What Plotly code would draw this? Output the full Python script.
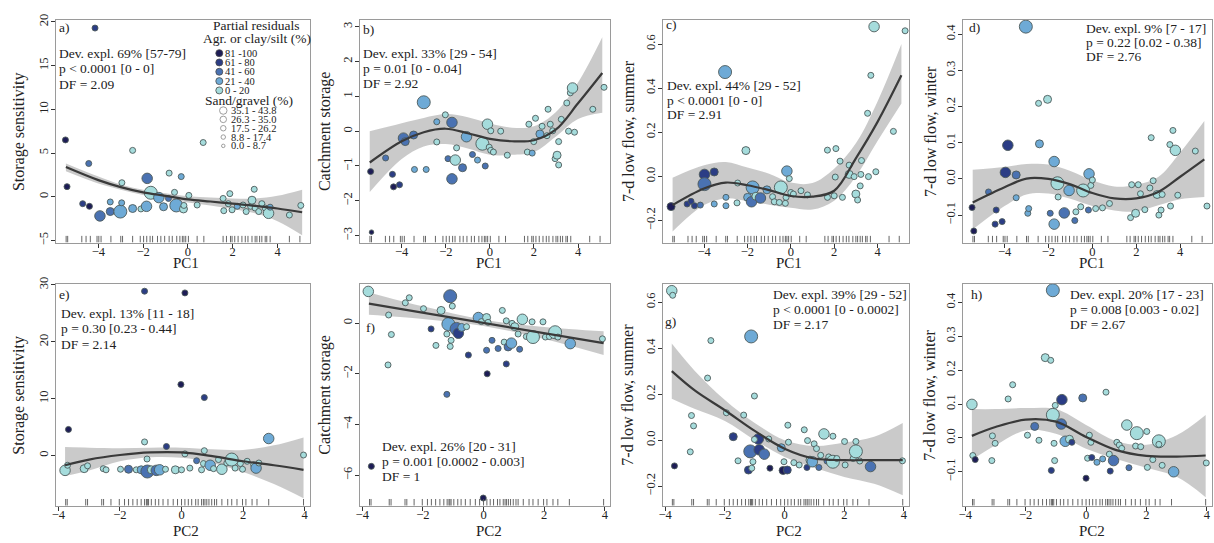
import plotly.graph_objects as go

W, H = 1214, 543
SERIF = "Liberation Serif, Times New Roman, serif"

# ---- legend classes -------------------------------------------------------
AGR_LABELS = ["81 -100", "61 - 80", "41 - 60", "21 - 40", "0 - 20"]
AGR_COLORS = ["#1d1c56", "#2b3d85", "#4a72b2", "#6eaad6", "#a5dcdc"]  # class 1 (81-100) .. 5 (0-20)
SAND_LABELS = ["35.1 - 43.8", "26.3 - 35.0", "17.5 - 26.2", "8.8 - 17.4", "0.0 - 8.7"]
SAND_PX = {1: 4.5, 2: 6, 3: 8, 4: 10.5, 5: 13}  # class 1 (0.0-8.7) .. 5 (35.1-43.8)

# ---- rug values -----------------------------------------------------------
PC1_RUG = [-5.44, -5.37, -4.74, -4.55, -4.36, -4.06, -3.98, -3.88, -3.44, -3.0, -2.92,
           -2.47, -2.13, -1.98, -1.84, -1.69, -1.58, -1.36, -1.21, -1.04, -0.84, -0.7,
           -0.5, -0.36, -0.25, -0.18, -0.1, 0.02, 0.41, 0.71, 1.57, 1.72, 1.9, 1.97,
           2.09, 2.24, 2.41, 2.56, 2.68, 2.86, 3.0, 3.08, 3.2, 3.3, 3.45, 3.52, 3.67,
           4.53, 5.0]
PC2_RUG = [-3.76, -3.71, -3.11, -3.05, -2.59, -2.53, -2.29, -2.02, -1.85, -1.72, -1.58,
           -1.44, -1.31, -1.2, -1.14, -1.11, -1.07, -0.98, -0.85, -0.74, -0.6, -0.44,
           -0.27, -0.13, 0.0, 0.11, 0.22, 0.33, 0.46, 0.54, 0.65, 0.71, 0.76, 0.82,
           0.89, 0.98, 1.07, 1.14, 1.31, 1.5, 1.63, 1.8, 1.98, 2.09, 2.29, 2.45, 2.83,
           3.96]

KNOTS_PC1 = [-5.45, -4, -3, -2, -1, 0, 1, 2, 3, 4, 5.1]
KNOTS_PC2 = [-3.78, -3, -2, -1, 0, 1, 2, 3, 3.96]
KNOTS_LIN = [-3.78, -2, 0, 2, 3.96]

# ---- a) storage sensitivity ~ PC1 ----------------------------------------
a_x = [-4.15, -5.47, -5.40, -4.43, -4.70, -4.40, -3.93, -3.47, -3.47, -3.02, -2.96, -2.95,
       -2.47, -2.47, -2.10, -1.82, -1.85, -1.66, -1.30, -1.09, -0.87, -0.84, -0.60, -0.52,
       -0.30, -0.20, -0.18, 0.04, 0.41, 0.68, 1.57, 1.60, 1.87, 1.80, 1.97, 2.20, 2.46,
       2.60, 2.80, 2.86, 2.96, 3.00, 3.16, 3.30, 3.45, 3.60, 3.67, 4.53, 5.04]
a_y = [19.3, 6.5, 1.15, 3.8, -0.8, -1.1, -2.2, -1.7, -0.6, -1.7, -0.7, 1.6,
       5.3, -1.35, -1.4, 2.1, -1.1, 0.45, -0.1, -1.15, -0.2, 2.7, 0.5, -1.0,
       2.3, -1.4, -1.0, 0.15, -0.95, 6.2, -0.2, -1.6, 0.35, -0.8, -1.5, -1.1, -0.95,
       -1.7, -1.1, -0.4, 0.85, -1.3, -1.7, -0.8, -1.3, -1.9, -1.2, -2.1, -1.0]
a_agr = [2, 1, 1, 3, 2, 1, 3, 3, 4, 4, 4, 5, 5, 4, 5, 3, 4, 5, 4, 4, 3, 5, 5, 4,
         4, 5, 5, 5, 5, 5, 5, 5, 5, 5, 5, 4, 5, 5, 5, 5, 5, 5, 5, 5, 5, 5, 4, 5, 5]
a_sand = [2, 2, 2, 2, 2, 2, 4, 3, 2, 5, 2, 2, 2, 3, 2, 4, 4, 5, 4, 3, 2, 2, 2, 5,
          2, 3, 2, 2, 2, 2, 2, 2, 2, 2, 2, 2, 2, 2, 2, 3, 2, 2, 2, 2, 2, 4, 2, 2, 2]
a_fit = [3.4, 1.9, 1.1, 0.5, 0.1, -0.3, -0.55, -0.8, -1.05, -1.35, -1.78]
a_lo = [2.9, 1.5, 0.8, 0.2, -0.2, -0.65, -1.0, -1.4, -1.9, -2.8, -4.4]
a_hi = [3.8, 2.3, 1.4, 0.8, 0.4, 0.05, -0.1, -0.2, -0.2, 0.1, 0.8]

# ---- b) catchment storage ~ PC1 ------------------------------------------
b_x = [-5.41, -5.37, -4.73, -4.42, -4.37, -4.10, -3.92, -3.84, -3.46, -3.42, -2.89, -3.00,
       -2.41, -2.41, -2.02, -1.90, -1.72, -1.72, -1.57, -1.51, -1.24, -1.06, -0.79, -0.56,
       -0.21, -0.34, -0.11, -0.03, 0.04, 0.16, 0.04, 0.49, 0.79, 1.70, 1.77, 1.92, 1.99,
       2.07, 2.27, 2.37, 2.59, 2.64, 2.74, 2.85, 2.96, 3.05, 3.12, 3.12, 3.24, 3.49, 3.65,
       3.75, 3.57, 3.84, 4.67, 5.18]
b_y = [-1.16, -2.9, -0.77, -1.24, -1.6, -1.54, -0.2, -0.3, -0.11, -1.1, -1.1, 0.83,
       0.27, -0.31, 0.47, -0.79, 0.25, -1.37, -0.83, -0.48, -1.05, -0.16, -0.67, -0.83,
       -1.0, -0.36, 0.2, -0.46, -0.55, -0.6, 0.01, 0.0, -0.69, -0.6, 0.2, -0.63, -0.3,
       0.37, -0.08, 0.14, -0.13, 0.63, 0.2, 0.01, -0.79, -0.69, -0.3, -0.97, 0.34, 0.81, 1.1,
       1.24, 0.0, -0.03, 0.63, 1.26]
b_agr = [1, 1, 3, 2, 1, 2, 3, 3, 3, 4, 4, 4, 4, 5, 5, 3, 3, 3, 5, 5, 3, 4, 3, 4,
         3, 5, 5, 5, 5, 5, 5, 5, 5, 5, 5, 4, 5, 5, 4, 5, 5, 5, 5, 5, 5, 5, 5, 5, 5, 5, 5,
         5, 5, 5, 5, 5]
b_sand = [2, 1, 2, 2, 2, 2, 4, 3, 3, 2, 2, 5, 2, 2, 2, 2, 4, 4, 4, 2, 3, 4, 2, 2,
          2, 5, 4, 2, 2, 2, 2, 2, 2, 2, 2, 2, 2, 2, 3, 2, 2, 2, 2, 2, 2, 3, 2, 2, 2, 2, 2,
          4, 2, 2, 2, 2]
b_fit = [-0.9, -0.29, -0.03, 0.07, -0.06, -0.22, -0.29, -0.26, 0.05, 0.8, 1.67]
b_lo = [-1.75, -0.8, -0.44, -0.37, -0.5, -0.68, -0.68, -0.6, -0.15, 0.35, 0.53]
b_hi = [0.0, 0.23, 0.38, 0.49, 0.4, 0.22, 0.1, 0.14, 0.55, 1.4, 2.7]

# ---- c) 7-d low flow, summer ~ PC1 ---------------------------------------
c_x = [-5.52, -4.78, -4.60, -4.44, -4.17, -3.98, -3.98, -3.53, -3.53, -2.99, -2.99, -3.03,
       -2.48, -2.45, -2.07, -1.99, -1.81, -1.76, -1.61, -1.40, -1.10, -0.84, -0.76, -0.53,
       -0.46, -0.25, -0.18, -0.07, 0.0, -0.22, 0.12, 0.47, 0.77, 1.69, 2.08, 1.69, 2.0,
       2.05, 2.27, 2.38, 2.69, 2.69, 2.92, 3.0, 3.08, 3.2, 3.23, 3.26, 3.54, 3.69, 3.58,
       3.84, 3.92, 4.73, 5.27]
c_y = [-0.137, -0.125, -0.113, -0.133, -0.13, 0.009, -0.035, 0.02, -0.125, -0.095, -0.133, 0.473,
       -0.12, -0.03, 0.117, -0.095, -0.115, -0.05, -0.09, -0.098, -0.061, -0.092, -0.115, -0.118,
       -0.05, -0.122, 0.024, -0.01, -0.073, -0.095, -0.08, -0.065, -0.084, 0.119, 0.126, -0.095, -0.088,
       -0.003, 0.069, -0.095, 0.051, 0.009, -0.001, -0.08, -0.107, -0.043, 0.009, 0.072, 0.286, 0.458, -0.001,
       0.679, 0.021, 0.204, 0.66]
c_agr = [1, 2, 2, 2, 3, 2, 3, 2, 4, 4, 4, 4, 5, 5, 5, 4, 3, 4, 5, 3, 4, 5, 5, 5,
         5, 5, 4, 5, 5, 5, 5, 5, 5, 5, 5, 5, 5, 5, 5, 5, 5, 5, 5, 5, 5, 5, 5, 5, 5, 5, 5,
         5, 5, 5, 5]
c_sand = [3, 2, 2, 2, 2, 4, 5, 3, 2, 2, 2, 5, 2, 2, 3, 3, 4, 5, 3, 4, 3, 2, 2, 2,
          5, 2, 4, 2, 2, 2, 2, 2, 2, 2, 2, 2, 2, 2, 2, 2, 2, 3, 2, 3, 2, 2, 2, 2, 2, 2, 2,
          4, 2, 2, 2]
c_fit = [-0.13, -0.055, -0.028, -0.04, -0.062, -0.089, -0.092, -0.065, 0.082, 0.247, 0.458]
c_lo = [-0.25, -0.13, -0.10, -0.113, -0.128, -0.142, -0.15, -0.11, 0.0, 0.16, 0.33]
c_hi = [-0.006, 0.05, 0.065, 0.04, 0.012, -0.028, -0.03, 0.035, 0.15, 0.34, 0.6]

# ---- d) 7-d low flow, winter ~ PC1 ---------------------------------------
d_x = [-5.48, -5.40, -4.73, -4.43, -4.38, -4.11, -3.96, -3.85, -3.47, -3.47, -3.03, -2.94,
       -2.90, -2.45, -2.41, -2.04, -1.92, -1.74, -1.74, -1.59, -1.56, -1.28, -1.06, -0.80,
       -0.75, -0.53, -0.42, -0.18, -0.15, -0.07, 0.0, 0.15, 0.46, 0.78, 1.74, 1.79, 1.97,
       2.09, 2.19, 2.39, 2.62, 2.68, 2.77, 2.95, 3.03, 3.13, 3.18, 3.53, 3.56, 3.67, 3.78,
       3.89, 4.69, 5.22]
d_y = [-0.079, -0.144, -0.036, -0.125, -0.086, -0.118, 0.018, 0.093, 0.011, -0.052, 0.421, -0.095,
       -0.082, 0.209, 0.097, 0.22, -0.095, 0.048, -0.125, -0.012, -0.05, -0.094, -0.032, -0.115,
       -0.091, -0.077, -0.032, -0.086, 0.014, -0.018, -0.003, -0.082, -0.08, -0.068, -0.107, -0.016, -0.095,
       -0.016, -0.041, -0.085, -0.025, 0.114, -0.005, -0.043, -0.1, -0.086, -0.043, 0.095, -0.075, 0.134, 0.079,
       -0.045, 0.077, -0.075]
d_agr = [1, 1, 3, 2, 2, 2, 2, 2, 3, 4, 4, 4, 4, 5, 4, 5, 3, 4, 4, 5, 5, 3, 4, 3,
         5, 5, 5, 3, 4, 5, 5, 5, 5, 5, 5, 5, 5, 5, 5, 5, 5, 5, 5, 5, 5, 5, 5, 5, 5, 5, 5,
         5, 5, 5]
d_sand = [2, 2, 2, 2, 2, 2, 4, 4, 3, 2, 5, 2, 2, 2, 3, 3, 2, 4, 4, 5, 2, 4, 4, 2,
          2, 2, 5, 2, 4, 2, 2, 2, 2, 2, 2, 2, 3, 2, 2, 2, 2, 2, 2, 3, 2, 2, 2, 2, 2, 2, 4,
          2, 2, 2]
d_fit = [-0.065, -0.023, 0.001, 0.0, -0.015, -0.039, -0.054, -0.054, -0.036, 0.006, 0.054]
d_lo = [-0.14, -0.075, -0.043, -0.04, -0.055, -0.075, -0.087, -0.09, -0.073, -0.056, -0.05]
d_hi = [0.025, 0.033, 0.041, 0.04, 0.022, -0.004, -0.021, -0.016, 0.005, 0.073, 0.16]

# ---- e) storage sensitivity ~ PC2 ----------------------------------------
e_x = [-1.2, 0.11, -0.02, 0.74, -3.67, -1.2, -0.49, 0.74, 2.83, 3.96, -3.78, -3.7,
       -3.16, -3.05, -2.54, -2.45, -1.98, -1.72, -1.47, -1.31, -1.11, -1.12, -0.98, -0.82,
       -0.71, -0.52, -0.2, 0.0, 0.11, 0.27, 0.49, 0.65, 0.71, 0.93, 1.04, 1.2, 1.31, 1.47,
       1.63, 1.74, 1.91, 1.98, 2.13, 2.34, 2.42, 2.51]
e_y = [28.9, 28.6, 12.5, 10.2, 4.6, 2.4, 1.6, 0.86, 3.0, 0.1, -2.6, -1.7,
       -2.3, -1.8, -2.3, -2.5, -2.4, -2.4, -2.5, -2.5, -2.8, -0.6, -2.5, -2.6,
       -2.5, -2.4, -2.5, -2.5, 0.3, -2.2, -0.9, -2.5, -1.4, -1.7, -2.3, -0.7, -2.4, -1.3,
       -0.7, -2.2, -1.4, -2.4, -1.0, -1.6, -2.2, -1.3]
e_agr = [2, 1, 1, 2, 1, 5, 2, 5, 4, 5, 5, 5, 5, 5, 5, 5, 5, 3, 5, 4, 3, 5, 5, 3,
         4, 5, 5, 5, 5, 5, 3, 5, 5, 4, 5, 5, 5, 5, 5, 5, 5, 5, 5, 5, 4, 5]
e_sand = [2, 2, 2, 2, 2, 2, 2, 2, 4, 2, 4, 2, 3, 2, 2, 2, 2, 3, 2, 3, 5, 2, 3, 4,
          4, 2, 3, 2, 2, 2, 2, 2, 2, 4, 2, 2, 4, 2, 5, 2, 2, 2, 2, 2, 4, 2]
e_fit = [-1.7, -0.7, 0.1, 0.55, 0.55, -0.1, -1.0, -1.7, -2.5]
e_lo = [-3.6, -2.6, -1.0, -0.3, -0.4, -1.3, -2.9, -5.0, -7.5]
e_hi = [1.5, 1.4, 1.3, 1.4, 1.4, 1.1, 1.0, 1.8, 3.2]

# ---- f) catchment storage ~ PC2 ------------------------------------------
f_x = [-3.8, -3.13, -3.04, -3.15, -2.58, -2.45, -1.98, -1.73, -1.57, -1.4, -1.21, -1.16,
       -1.1, -1.07, -1.1, -1.03, -1.21, -0.89, -0.83, -0.72, -0.56, -0.5, -0.17, -0.07,
       0.1, 0.1, 0.12, -0.01, 0.15, 0.28, 0.48, 0.62, 0.68, 0.75, 0.75, 0.81, 0.92, 0.94,
       1.03, 1.14, 1.19, 1.28, 1.41, 1.6, 1.63, 1.96, 2.04, 2.17, 2.36, 2.45, 2.86, 3.92,
       -3.7]
f_y = [1.25, 0.32, -0.45, -1.65, 0.8, 1.0, 0.57, -0.23, -0.88, 0.5, -0.43, -0.04,
       1.06, -0.68, -0.92, 0.67, -2.81, -0.23, -0.4, -0.17, -0.14, -1.26, 0.22, 0.06,
       0.22, -1.07, -2.0, -6.9, 0.03, -0.68, -1.0, 0.5, -0.75, 0.09, -1.61, -0.94, -0.79, -0.01,
       -0.14, -0.43, -1.03, 0.15, -0.53, 0.05, -0.55, 0.05, -0.55, -0.53, -0.36, -0.55, -0.81, -0.62,
       -5.65]
f_agr = [5, 5, 5, 5, 5, 5, 5, 2, 5, 5, 5, 4, 3, 5, 5, 5, 3, 3, 2, 4, 5, 2, 4, 5,
         5, 3, 1, 1, 5, 3, 3, 5, 5, 5, 2, 3, 4, 5, 5, 5, 3, 5, 5, 5, 5, 5, 5, 5, 5, 5, 4, 5,
         1]
f_sand = [4, 2, 2, 2, 2, 2, 2, 2, 2, 3, 2, 5, 5, 2, 2, 2, 2, 5, 4, 3, 2, 2, 4, 2,
          3, 2, 2, 2, 2, 2, 2, 2, 2, 2, 2, 3, 4, 2, 3, 2, 2, 4, 2, 2, 5, 2, 2, 2, 5, 2, 4, 2,
          2]
f_fit = [0.77, 0.41, 0.01, -0.39, -0.79]
f_lo = [0.33, 0.16, -0.11, -0.63, -1.26]
f_hi = [1.21, 0.66, 0.13, -0.15, -0.32]

# ---- g) 7-d low flow, summer ~ PC2 ---------------------------------------
g_x = [-3.78, -3.75, -3.69, -3.12, -3.05, -3.16, -2.47, -2.58, -1.95, -1.72, -1.56, -1.37,
       -1.12, -1.01, -1.15, -1.21, -1.06, -1.1, -0.88, -0.85, -0.68, -1.01, -0.49, -0.53,
       -0.11, -0.02, -0.05, 0.09, 0.13, 0.11, 0.31, 0.49, 0.66, 0.75, 0.77, 0.85, 0.93, 0.99,
       1.07, 1.15, 1.21, 1.32, 1.42, 1.48, 1.62, 1.62, 1.75, 2.03, 2.01, 2.3, 2.39, 2.39,
       2.52, 2.88, 3.95]
g_y = [0.65, 0.63, -0.112, 0.107, 0.062, -0.051, 0.433, 0.27, 0.119, 0.015, -0.09, 0.109,
       0.451, 0.192, -0.049, -0.13, -0.094, -0.122, 0.005, -0.042, -0.061, 0.003, -0.122, 0.005,
       -0.033, -0.094, -0.132, -0.13, -0.009, 0.065, -0.098, -0.108, 0.045, -0.119, -0.002, -0.087, -0.094, -0.016,
       -0.037, -0.119, -0.066, 0.027, -0.091, -0.073, -0.094, 0.017, -0.08, -0.108, -0.006, -0.08, -0.049, -0.006,
       -0.091, -0.115, -0.09]
g_agr = [5, 5, 1, 5, 5, 5, 5, 5, 5, 2, 5, 5, 4, 5, 3, 2, 5, 5, 2, 2, 3, 5, 1, 5,
         4, 5, 1, 2, 5, 5, 5, 5, 5, 2, 5, 5, 4, 5, 5, 3, 5, 5, 3, 5, 5, 5, 5, 5, 5, 5, 5, 5,
         5, 3, 5]
g_sand = [4, 2, 2, 2, 2, 2, 2, 2, 2, 3, 2, 2, 5, 2, 5, 3, 2, 2, 4, 4, 4, 2, 2, 2,
          3, 2, 3, 3, 2, 2, 2, 2, 2, 2, 2, 3, 4, 2, 2, 2, 2, 4, 2, 2, 5, 2, 2, 2, 2, 2, 5, 2,
          2, 4, 2]
g_fit = [0.30, 0.215, 0.13, 0.04, -0.037, -0.08, -0.087, -0.087, -0.087]
g_lo = [0.18, 0.135, 0.083, 0.0, -0.073, -0.12, -0.16, -0.19, -0.24]
g_hi = [0.42, 0.30, 0.175, 0.075, 0.0, -0.025, -0.01, 0.015, 0.075]

# ---- h) 7-d low flow, winter ~ PC2 ---------------------------------------
h_x = [-1.1, -3.78, -3.75, -3.67, -3.1, -3.01, -3.12, -2.58, -2.43, -1.94, -1.7, -1.56,
       -1.35, -1.17, -1.15, -1.1, -1.06, -1.04, -1.02, -0.8, -0.82, -0.69, -0.55, -0.47,
       -0.11, 0.0, 0.11, 0.16, 0.05, 0.19, 0.36, 0.55, 0.66, 0.77, 0.8, 0.91, 1.02, 1.1,
       1.18, 1.35, 1.42, 1.64, 1.68, 1.81, 2.01, 2.03, 2.21, 2.41, 2.52, 2.41, 2.9, 3.98]
h_y = [0.436, 0.099, -0.052, -0.064, 0.006, -0.016, -0.067, 0.115, 0.157, 0.008, 0.034, -0.007,
       0.237, 0.229, -0.096, 0.068, -0.016, -0.067, 0.096, 0.113, 0.041, -0.01, -0.004, -0.013,
       0.118, -0.119, 0.008, -0.013, -0.06, -0.058, -0.072, -0.062, 0.135, -0.048, -0.098, -0.067, -0.013, -0.021,
       -0.031, 0.038, -0.088, -0.024, 0.014, -0.026, 0.019, -0.087, -0.064, -0.01, -0.081, -0.019, -0.1, -0.074]
h_agr = [4, 5, 5, 1, 5, 5, 5, 5, 5, 5, 3, 5, 5, 5, 2, 5, 5, 5, 5, 2, 3, 4, 5, 2,
         3, 1, 5, 5, 5, 2, 4, 4, 5, 5, 2, 3, 5, 5, 5, 5, 3, 5, 5, 5, 5, 5, 5, 5, 5, 5, 4, 5]
h_sand = [5, 4, 2, 2, 2, 2, 2, 2, 2, 2, 3, 2, 3, 2, 2, 5, 2, 2, 2, 4, 4, 4, 3, 2,
          3, 2, 2, 2, 2, 2, 2, 2, 2, 2, 2, 4, 2, 2, 2, 4, 2, 2, 5, 2, 2, 2, 2, 5, 2, 2, 4, 2]
h_fit = [0.006, 0.032, 0.054, 0.048, 0.003, -0.036, -0.053, -0.055, -0.052]
h_lo = [-0.065, -0.022, 0.022, 0.012, -0.032, -0.062, -0.088, -0.115, -0.175]
h_hi = [0.085, 0.085, 0.088, 0.085, 0.038, -0.01, -0.02, 0.008, 0.068]

# ---- panel layout (pixel boxes) -------------------------------------------
COL_PX = [(52, 307), (357, 608), (661, 908), (962, 1212)]
ROW_PX = [(13, 240), (282, 508)]
YTITLE_X = [15, 322, 626, 929]
XTITLE_X = [183, 487, 788, 1092]
XTITLE_Y = [261, 534]

PANELS = [
    dict(tag="a)", x=a_x, y=a_y, agr=a_agr, sand=a_sand, k=KNOTS_PC1, fit=a_fit, lo=a_lo, hi=a_hi,
         rug=PC1_RUG, yr=[-5.25, 20.25], yt=[-5, 0, 5, 10, 15, 20], fmt="d",
         ytitle="Storage sensitivity", xtitle="PC1",
         stats=["Dev. expl. 69% [57-79]", "p < 0.0001 [0 - 0]", "DF = 2.09"],
         tagpos=(57, 21), statpos=(57, 47), step=16),
    dict(tag="b)", x=b_x, y=b_y, agr=b_agr, sand=b_sand, k=KNOTS_PC1, fit=b_fit, lo=b_lo, hi=b_hi,
         rug=PC1_RUG, yr=[-3.2, 3.2], yt=[-3, -2, -1, 0, 1, 2, 3], fmt="d",
         ytitle="Catchment storage", xtitle="PC1",
         stats=["Dev. expl. 33% [29 - 54]", "p = 0.01 [0 - 0.04]", "DF = 2.92"],
         tagpos=(362, 23), statpos=(362, 47), step=15.5),
    dict(tag="c)", x=c_x, y=c_y, agr=c_agr, sand=c_sand, k=KNOTS_PC1, fit=c_fit, lo=c_lo, hi=c_hi,
         rug=PC1_RUG, yr=[-0.3, 0.71], yt=[-0.2, 0.0, 0.2, 0.4, 0.6], fmt=".1f",
         ytitle="7-d low flow, summer", xtitle="PC1",
         stats=["Dev. expl. 44% [29 - 52]", "p < 0.0001 [0 - 0]", "DF = 2.91"],
         tagpos=(666, 18), statpos=(667, 80), step=15),
    dict(tag="d)", x=d_x, y=d_y, agr=d_agr, sand=d_sand, k=KNOTS_PC1, fit=d_fit, lo=d_lo, hi=d_hi,
         rug=PC1_RUG, yr=[-0.176, 0.44], yt=[-0.1, 0.0, 0.1, 0.2, 0.3, 0.4], fmt=".1f",
         ytitle="7-d low flow, winter", xtitle="PC1",
         stats=["Dev. expl. 9% [7 - 17]", "p = 0.22 [0.02 - 0.38]", "DF = 2.76"],
         tagpos=(970, 21), statpos=(1088, 22), step=14),
    dict(tag="e)", x=e_x, y=e_y, agr=e_agr, sand=e_sand, k=KNOTS_PC2, fit=e_fit, lo=e_lo, hi=e_hi,
         rug=PC2_RUG, yr=[-8.8, 30.2], yt=[0, 10, 20, 30], fmt="d",
         ytitle="Storage sensitivity", xtitle="PC2",
         stats=["Dev. expl. 13% [11 - 18]", "p = 0.30 [0.23 - 0.44]", "DF = 2.14"],
         tagpos=(57, 293), statpos=(59, 312), step=16),
    dict(tag="f)", x=f_x, y=f_y, agr=f_agr, sand=f_sand, k=KNOTS_LIN, fit=f_fit, lo=f_lo, hi=f_hi,
         rug=PC2_RUG, yr=[-7.2, 1.55], yt=[-6, -4, -2, 0], fmt="d",
         ytitle="Catchment storage", xtitle="PC2",
         stats=["Dev. expl. 26% [20 - 31]", "p = 0.001 [0.0002 - 0.003]", "DF = 1"],
         tagpos=(365, 327), statpos=(381, 448), step=15),
    dict(tag="g)", x=g_x, y=g_y, agr=g_agr, sand=g_sand, k=KNOTS_PC2, fit=g_fit, lo=g_lo, hi=g_hi,
         rug=PC2_RUG, yr=[-0.285, 0.68], yt=[-0.2, 0.0, 0.2, 0.4, 0.6], fmt=".1f",
         ytitle="7-d low flow, summer", xtitle="PC2",
         stats=["Dev. expl. 39% [29 - 52]", "p < 0.0001 [0 - 0.0002]", "DF = 2.17"],
         tagpos=(665, 320), statpos=(774, 293), step=15),
    dict(tag="h)", x=h_x, y=h_y, agr=h_agr, sand=h_sand, k=KNOTS_PC2, fit=h_fit, lo=h_lo, hi=h_hi,
         rug=PC2_RUG, yr=[-0.2, 0.455], yt=[-0.1, 0.0, 0.1, 0.2, 0.3, 0.4], fmt=".1f",
         ytitle="7-d low flow, winter", xtitle="PC2",
         stats=["Dev. expl. 20% [17 - 23]", "p = 0.008 [0.003 - 0.02]", "DF = 2.67"],
         tagpos=(972, 293), statpos=(1072, 293), step=15),
]
XRANGE = [[-5.9, 5.45], [-4.08, 4.17]]
XTICKS = [-4, -2, 0, 2, 4]
TEXT_FONT = dict(family=SERIF, size=13.5, color="#222")


def px(x, y):
    return x / W, 1 - y / H


def left_text(text, x, y, font):
    lx, ly = px(x, y)
    return dict(text=text, x=lx, y=ly, xref="paper", yref="paper", xanchor="left",
                yanchor="middle", showarrow=False, xshift=-3, borderpad=0, font=font)


fig = go.Figure()
layout = dict(width=W, height=H, margin=dict(l=0, r=0, t=0, b=0), autosize=False,
              paper_bgcolor="white", plot_bgcolor="rgba(0,0,0,0)", showlegend=False,
              font=dict(family=SERIF, size=12, color="#222"))
annotations = []

for i, p in enumerate(PANELS):
    row, col = divmod(i, 4)
    n = i + 1
    xa, ya = ("x", "y") if n == 1 else (f"x{n}", f"y{n}")
    xkey, ykey = ("xaxis", "yaxis") if n == 1 else (f"xaxis{n}", f"yaxis{n}")
    x0, x1 = COL_PX[col]
    y0, y1 = ROW_PX[row]
    axis_common = dict(showgrid=False, zeroline=False, showline=True, mirror=True,
                       linecolor="#9a9a9a", linewidth=1, ticks="outside", ticklen=4,
                       tickcolor="#333", tickwidth=1, tickfont=dict(family=SERIF, size=12.5, color="#222"))
    layout[xkey] = dict(domain=[x0 / W, x1 / W], range=XRANGE[row], anchor=ya,
                        tickvals=XTICKS, ticklabelstandoff=-7, **axis_common)
    layout[ykey] = dict(domain=[1 - y1 / H, 1 - y0 / H], range=p["yr"], anchor=xa,
                        tickvals=p["yt"], tickformat=p["fmt"], tickangle=-90,
                        ticklabelstandoff=-2, **axis_common)

    fit_shape = "linear" if p["k"] is KNOTS_LIN else "spline"
    # confidence band
    fig.add_trace(go.Scatter(x=p["k"], y=p["lo"], mode="lines", line=dict(width=0, shape="spline"),
                             xaxis=xa, yaxis=ya, hoverinfo="skip"))
    fig.add_trace(go.Scatter(x=p["k"], y=p["hi"], mode="lines", line=dict(width=0, shape="spline"),
                             fill="tonexty", fillcolor="rgba(150,150,150,0.5)",
                             xaxis=xa, yaxis=ya, hoverinfo="skip"))
    # partial residuals
    fig.add_trace(go.Scatter(
        x=p["x"], y=p["y"], mode="markers", xaxis=xa, yaxis=ya,
        marker=dict(color=[AGR_COLORS[c - 1] for c in p["agr"]],
                    size=[SAND_PX[s] for s in p["sand"]],
                    line=dict(color="#4d5a5a", width=0.9), opacity=1)))
    # fitted smooth
    fig.add_trace(go.Scatter(x=p["k"], y=p["fit"], mode="lines",
                             line=dict(color="#3a3a3a", width=2.2, shape=fit_shape),
                             xaxis=xa, yaxis=ya, hoverinfo="skip"))
    # rug
    ymin, ymax = p["yr"]
    tick_h = 0.03 * (ymax - ymin)
    rx, ry = [], []
    for v in p["rug"]:
        rx += [v, v, None]
        ry += [ymin, ymin + tick_h, None]
    fig.add_trace(go.Scatter(x=rx, y=ry, mode="lines", line=dict(color="#555", width=0.9),
                             xaxis=xa, yaxis=ya, hoverinfo="skip"))

    # panel text
    annotations.append(left_text(p["tag"], *p["tagpos"], TEXT_FONT))
    sx, sy = p["statpos"]
    for j, line in enumerate(p["stats"]):
        annotations.append(left_text(line, sx, sy + j * p["step"], TEXT_FONT))
    # axis titles
    ax, ay = px(YTITLE_X[col], (y0 + y1) / 2)
    annotations.append(dict(text=p["ytitle"], x=ax, y=ay, xref="paper", yref="paper",
                            textangle=-90, xanchor="center", yanchor="middle", showarrow=False,
                            font=dict(family=SERIF, size=16, color="#222")))
    bx, by = px(XTITLE_X[col], XTITLE_Y[row])
    annotations.append(dict(text=p["xtitle"], x=bx, y=by, xref="paper", yref="paper",
                            xanchor="center", yanchor="middle", showarrow=False,
                            font=dict(family=SERIF, size=15, color="#222")))

# ---- legend in panel a (pixel-coordinate overlay) -------------------------
layout["xaxis9"] = dict(domain=[0, 1], range=[0, W], visible=False, anchor="y9", fixedrange=True)
layout["yaxis9"] = dict(domain=[0, 1], range=[H, 0], visible=False, anchor="x9", fixedrange=True)
LEG_AGR_Y = [47, 56.5, 66, 75.5, 85]
LEG_SAND_Y = [105.5, 114.5, 123.5, 132.5, 141.5]
LEG_SAND_PX = [7.5, 6.5, 5.5, 4.5, 3.5]
fig.add_trace(go.Scatter(x=[216] * 5, y=LEG_AGR_Y, mode="markers", xaxis="x9", yaxis="y9",
                         marker=dict(color=AGR_COLORS, size=7, line=dict(color="#4a4a4a", width=0.8)),
                         hoverinfo="skip"))
fig.add_trace(go.Scatter(x=[220] * 5, y=LEG_SAND_Y, mode="markers", xaxis="x9", yaxis="y9",
                         marker=dict(color="white", size=LEG_SAND_PX, line=dict(color="#666", width=0.9)),
                         hoverinfo="skip"))
for txt, (x, y) in [("Partial residuals", (253, 19)), ("Agr. or clay/silt (%)", (254, 32)),
                    ("Sand/gravel (%)", (246, 95))]:
    lx, ly = px(x, y)
    annotations.append(dict(text=txt, x=lx, y=ly, xref="paper", yref="paper", xanchor="center",
                            yanchor="middle", showarrow=False, borderpad=0,
                            font=dict(family=SERIF, size=13.5, color="#222")))
LEG_FONT = dict(family=SERIF, size=10.5, color="#222")
for lab, y in zip(AGR_LABELS, LEG_AGR_Y):
    annotations.append(left_text(lab, 224, y, LEG_FONT))
for lab, y in zip(SAND_LABELS, LEG_SAND_Y):
    annotations.append(left_text(lab, 230, y, LEG_FONT))

layout["annotations"] = annotations
fig.update_layout(**layout)
fig.write_html("out.html")
